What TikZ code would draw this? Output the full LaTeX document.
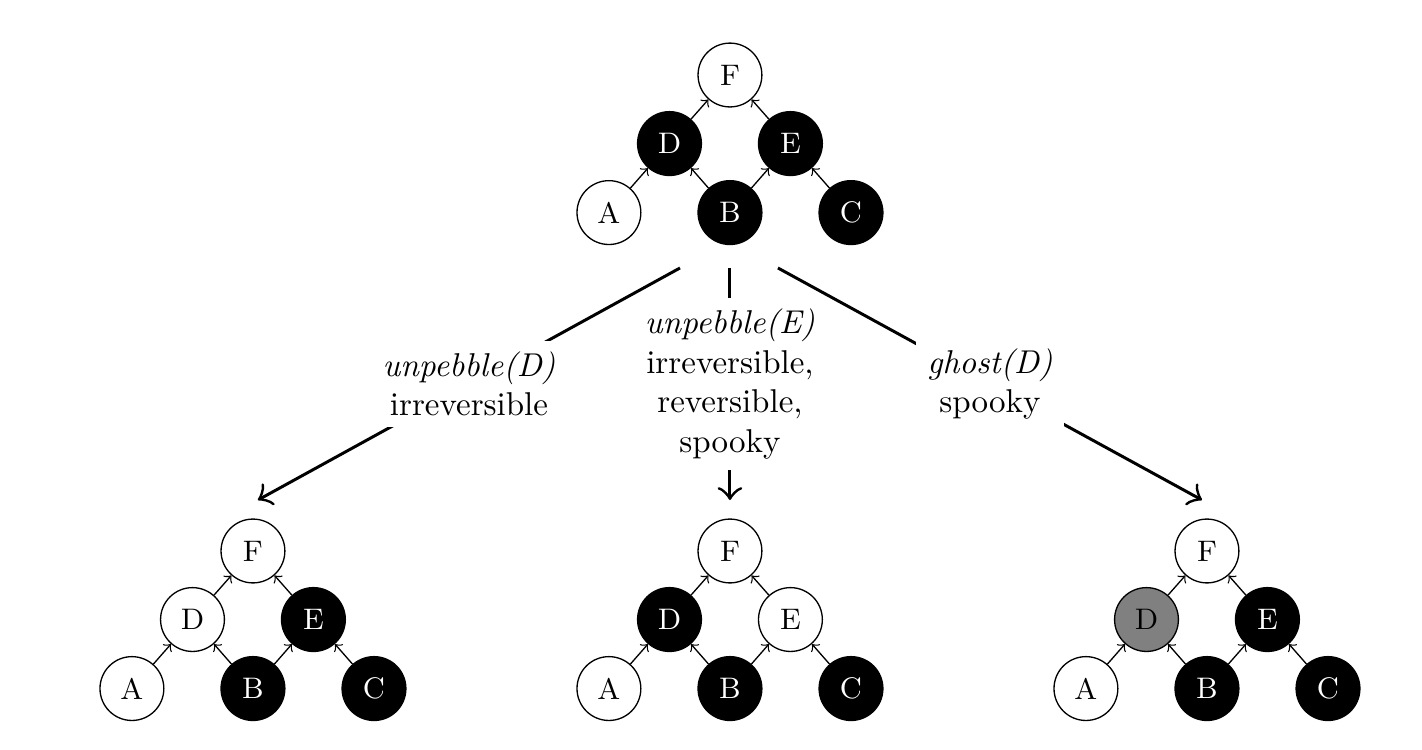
\documentclass[tikz,border=0pt]{standalone}
\usepackage{tikz}
\usetikzlibrary{arrows.meta, calc, positioning}
\tikzstyle{free} = [circle, draw=black, minimum size=0.68cm, inner sep=0pt, font=\small]
\tikzstyle{pebbled} = [free, fill=black, text=white]
\tikzstyle{ghosted} = [free, fill=gray]
\tikzstyle{dep} = [->, >=to]
\tikzstyle{move} = [line width=0.9pt, -{Classical TikZ Rightarrow[scale=1.4]}]
\tikzstyle{rule} = [fill=white, align=center]
% #1 prefix, #2 position of F, #3..#8 styles of A B C D E F
\newcommand{\pebbletree}[8]{%
	\begin{scope}[shift={#2}]
		\node (#1F) [#8] at (0,0) {F};
		\node (#1D) [#6] at (-0.644,-0.73) {D};
		\node (#1E) [#7] at (0.644,-0.73) {E};
		\node (#1A) [#3] at (-1.289,-1.465) {A};
		\node (#1B) [#4] at (0,-1.465) {B};
		\node (#1C) [#5] at (1.289,-1.465) {C};
		\draw [dep] (#1A) -- (#1D);
		\draw [dep] (#1B) -- (#1D);
		\draw [dep] (#1B) -- (#1E);
		\draw [dep] (#1C) -- (#1E);
		\draw [dep] (#1D) -- (#1F);
		\draw [dep] (#1E) -- (#1F);
	\end{scope}}
\begin{document}
\begin{tikzpicture}
	\useasboundingbox (-7.774,-7.188) rectangle (7.370,0.799);
	\pebbletree{top}{(0,0)}{free}{pebbled}{pebbled}{pebbled}{pebbled}{free}
	\pebbletree{left}{(-5.080,-5.069)}{free}{pebbled}{pebbled}{free}{pebbled}{free}
	\pebbletree{mid}{(0,-5.069)}{free}{pebbled}{pebbled}{pebbled}{free}{free}
	\pebbletree{right}{(5.080,-5.069)}{free}{pebbled}{pebbled}{ghosted}{pebbled}{free}
	\coordinate (StartLeft) at (-0.532,-2.055);
	\coordinate (StartMid) at (0,-2.055);
	\coordinate (StartRight) at (0.511,-2.055);
	\coordinate (EndLeft) at ($(leftF)+(0.053,0.543)$);
	\coordinate (EndMid) at ($(midF)+(0,0.543)$);
	\coordinate (EndRight) at ($(rightF)+(-0.053,0.543)$);
	\draw [move] (StartLeft) -- node [rule] {\textit{unpebble(D)}\\irreversible} (EndLeft);
	\draw [move] (StartMid) -- node [rule] {\textit{unpebble(E)}\\irreversible,\\reversible,\\spooky} (EndMid);
	\draw [move] (StartRight) -- node [rule] {\textit{ghost(D)}\\spooky} (EndRight);
\end{tikzpicture}
\end{document}
